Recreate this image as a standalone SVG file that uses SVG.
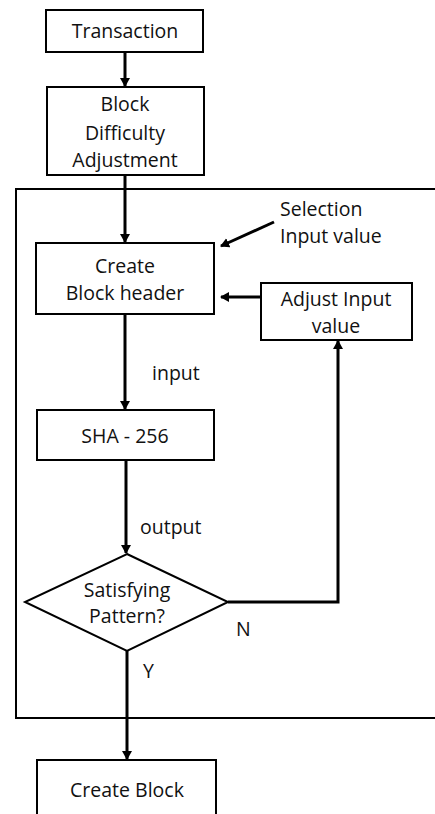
<svg xmlns="http://www.w3.org/2000/svg" width="435" height="814" viewBox="0 0 435 814">
<style>
.box{fill:#fff;stroke:#000;stroke-width:2}
.frame{fill:none;stroke:#000;stroke-width:2}
.con{fill:none;stroke:#000;stroke-width:3}
text{font-family:"Open Sans","Liberation Sans",sans-serif;font-size:19.5px;fill:#111}
.c{text-anchor:middle}
</style>
<defs>
<marker id="ah" markerWidth="10" markerHeight="10" refX="8" refY="5" orient="auto" markerUnits="userSpaceOnUse">
<path d="M0,0 L9,5 L0,10 z" fill="#000"/>
</marker>
</defs>
<rect class="frame" x="16" y="189" width="430" height="529"/>
<g id="connectors">
<line class="con" x1="125" y1="53" x2="125" y2="86" marker-end="url(#ah)"/>
<line class="con" x1="125" y1="175" x2="125" y2="242" marker-end="url(#ah)"/>
<line class="con" x1="274" y1="222" x2="221" y2="246" marker-end="url(#ah)"/>
<line class="con" x1="261" y1="297" x2="221" y2="297" marker-end="url(#ah)"/>
<line class="con" x1="125" y1="314" x2="125" y2="409" marker-end="url(#ah)"/>
<line class="con" x1="126" y1="460" x2="126" y2="553" marker-end="url(#ah)"/>
<polyline class="con" points="228,602 338,602 338,341" marker-end="url(#ah)"/>
<line class="con" x1="127" y1="651" x2="127" y2="759" marker-end="url(#ah)"/>
</g>
<g id="transaction">
<rect class="box" x="46" y="10" width="157" height="42"/>
<text class="c" x="125" y="38">Transaction</text>
</g>
<g id="difficulty">
<rect class="box" x="47" y="87" width="157" height="88"/>
<text class="c" x="125" y="111">Block</text>
<text class="c" x="125" y="140">Difficulty</text>
<text class="c" x="125" y="167">Adjustment</text>
</g>
<g id="selection">
<text x="280" y="216">Selection</text>
<text x="280" y="243">Input value</text>
</g>
<g id="header">
<rect class="box" x="36" y="243" width="178" height="71"/>
<text class="c" x="125" y="273">Create</text>
<text class="c" x="125" y="300">Block header</text>
</g>
<g id="adjust">
<rect class="box" x="261" y="283" width="151" height="57"/>
<text class="c" x="336" y="306">Adjust Input</text>
<text class="c" x="336" y="333">value</text>
</g>
<text x="152" y="380">input</text>
<g id="sha">
<rect class="box" x="37" y="410" width="177" height="50"/>
<text class="c" x="125" y="443">SHA - 256</text>
</g>
<text x="140" y="534">output</text>
<g id="decision">
<polygon class="box" points="127,554 228,602 127,651 25,602"/>
<text class="c" x="127" y="597">Satisfying</text>
<text class="c" x="127" y="623">Pattern?</text>
</g>
<text x="236" y="636">N</text>
<text x="143" y="678">Y</text>
<g id="createblock">
<rect class="box" x="37" y="760" width="179" height="70"/>
<text class="c" x="127" y="797">Create Block</text>
</g>
</svg>
